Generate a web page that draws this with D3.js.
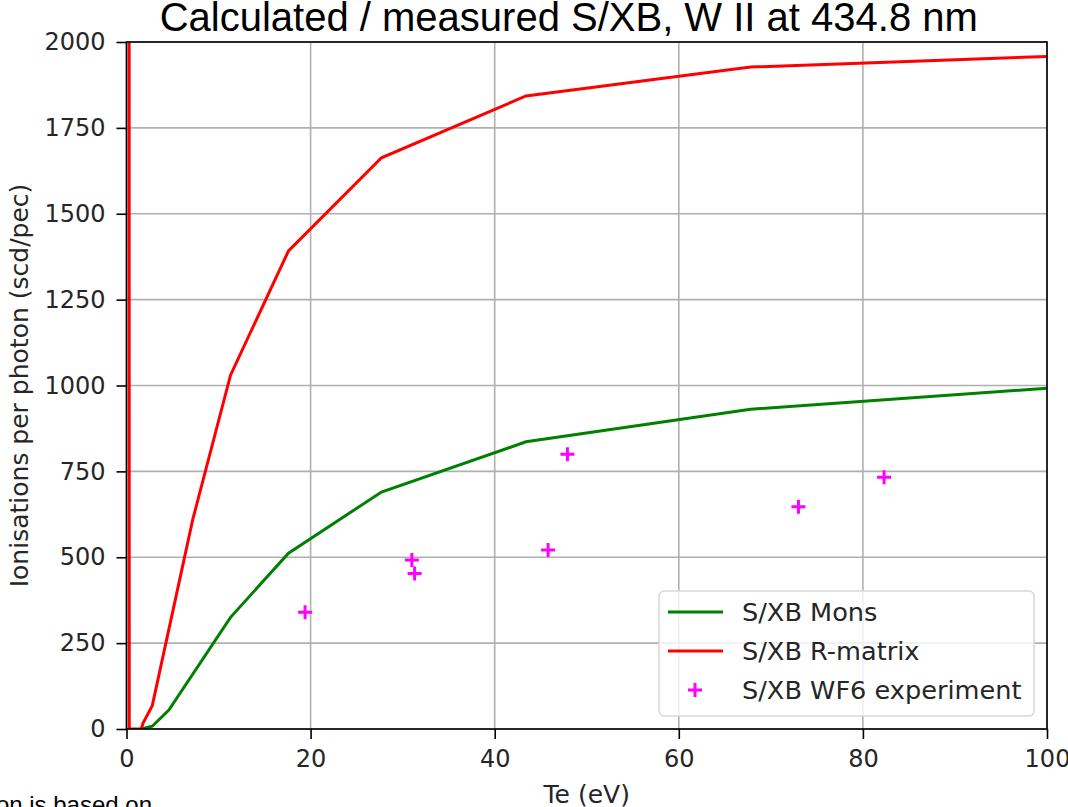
<!DOCTYPE html>
<html>
<head>
<meta charset="utf-8">
<script src="https://cdn.jsdelivr.net/npm/d3@7"></script>
<style>
  body { margin: 0; background: #fff; }
  svg { display: block; }
</style>
</head>
<body>
<svg id="chart" width="1068" height="807"></svg>
<script>
// Te grid (eV) and S/XB curves
const teRmatrix = [0.2, 0.3, 1.6, 1.8, 2.8, 7.2, 11.3, 17.6, 27.7, 43.4, 67.8, 100];
const sxbRmatrix = [20000, 0, 0, 17, 68, 610, 1030, 1392, 1663, 1843, 1927, 1958];
const teMons = [1.6, 2.8, 4.6, 11.3, 17.6, 27.7, 43.4, 67.8, 100];
const sxbMons = [0, 8, 55, 325, 512, 690, 836, 931, 992];
// WF6 experiment points
const teExp = [19.4, 31.0, 31.3, 45.8, 47.9, 73.0, 82.3];
const sxbExp = [340, 492, 453, 521, 800, 647, 733];

const xTicks = [0, 20, 40, 60, 80, 100];
const yTicks = [0, 250, 500, 750, 1000, 1250, 1500, 1750, 2000];

const margin = { top: 42, right: 21, bottom: 78, left: 126.5 },
      width = 1068 - margin.left - margin.right,
      height = 807 - margin.top - margin.bottom;

const svg = d3.select("#chart");
const g = svg.append("g")
    .attr("transform", `translate(${margin.left},${margin.top})`);

const x = d3.scaleLinear().domain([0, 100]).range([0, width]);
const y = d3.scaleLinear().domain([0, 2000]).range([height, 0]);

const font = "DejaVu Sans, sans-serif";

// clip
g.append("clipPath").attr("id", "clip")
  .append("rect").attr("width", width).attr("height", height);

// grid
g.append("g").selectAll("line").data(xTicks).join("line")
    .attr("x1", d => x(d)).attr("x2", d => x(d))
    .attr("y1", 0).attr("y2", height)
    .attr("stroke", "#b0b0b0").attr("stroke-width", 1.6);
g.append("g").selectAll("line").data(yTicks).join("line")
    .attr("x1", 0).attr("x2", width)
    .attr("y1", d => y(d)).attr("y2", d => y(d))
    .attr("stroke", "#b0b0b0").attr("stroke-width", 1.6);

// lines
const line = d3.line().x(d => x(d[0])).y(d => y(d[1]));
const plot = g.append("g").attr("clip-path", "url(#clip)");

plot.append("path")
    .datum(d3.zip(teMons, sxbMons))
    .attr("fill", "none").attr("stroke", "#008000").attr("stroke-width", 3)
    .attr("d", line);

plot.append("path")
    .datum(d3.zip(teRmatrix, sxbRmatrix))
    .attr("fill", "none").attr("stroke", "#ff0000").attr("stroke-width", 3)
    .attr("d", line);

// experiment markers
plot.selectAll(".pt").data(d3.zip(teExp, sxbExp)).join("path")
    .attr("class", "pt")
    .attr("transform", d => `translate(${x(d[0])},${y(d[1])})`)
    .attr("d", "M-7,0H7M0,-7V7")
    .attr("stroke", "#ff00ff").attr("stroke-width", 3);

// axes
const xAxis = g.append("g")
    .attr("transform", `translate(0,${height})`)
    .call(d3.axisBottom(x).tickValues(xTicks).tickSize(10).tickPadding(11).tickFormat(d3.format("d")));
const yAxis = g.append("g")
    .call(d3.axisLeft(y).tickValues(yTicks).tickSize(10).tickPadding(11).tickFormat(d3.format("d")));
[xAxis, yAxis].forEach(a => {
  a.select(".domain").remove();
  a.selectAll("line").attr("stroke", "#000").attr("stroke-width", 1.6);
  a.selectAll("text").attr("font-family", font).attr("font-size", 24).attr("fill", "#262626");
});

// frame
g.append("rect")
    .attr("width", width).attr("height", height)
    .attr("fill", "none").attr("stroke", "#000").attr("stroke-width", 1.6);

// title
svg.append("text")
    .attr("x", margin.left + width / 2 - 18).attr("y", 31)
    .attr("text-anchor", "middle")
    .attr("font-family", "Liberation Sans, Arial, sans-serif")
    .attr("font-size", 40)
    .attr("fill", "#000")
    .text("Calculated / measured S/XB, W II at 434.8 nm");

// axis labels
svg.append("text")
    .attr("x", margin.left + width / 2).attr("y", 803)
    .attr("text-anchor", "middle")
    .attr("font-family", font).attr("font-size", 25).attr("fill", "#262626")
    .text("Te (eV)");

svg.append("text")
    .attr("transform", `translate(28,${margin.top + height / 2}) rotate(-90)`)
    .attr("text-anchor", "middle")
    .attr("font-family", font).attr("font-size", 25).attr("fill", "#262626")
    .text("Ionisations per photon (scd/pec)");

// note cut off at bottom left
svg.append("text")
    .attr("x", 152).attr("y", 813)
    .attr("text-anchor", "end")
    .attr("font-family", "Liberation Sans, Arial, sans-serif")
    .attr("font-size", 24).attr("fill", "#000")
    .text("Calculation is based on");

// legend
const legendItems = [
  { label: "S/XB Mons", color: "#008000", type: "line" },
  { label: "S/XB R-matrix", color: "#ff0000", type: "line" },
  { label: "S/XB WF6 experiment", color: "#ff00ff", type: "marker" }
];
const lg = svg.append("g").attr("transform", "translate(659,591)");
lg.append("rect")
    .attr("width", 375).attr("height", 125).attr("rx", 5)
    .attr("fill", "#fff").attr("fill-opacity", 0.8)
    .attr("stroke", "#d9d9d9").attr("stroke-width", 1.6);
legendItems.forEach((d, i) => {
  const cy = 21 + i * 39;
  if (d.type === "line") {
    lg.append("line").attr("x1", 9).attr("x2", 64).attr("y1", cy).attr("y2", cy)
      .attr("stroke", d.color).attr("stroke-width", 3);
  } else {
    lg.append("path").attr("transform", `translate(36,${cy})`)
      .attr("d", "M-7,0H7M0,-7V7")
      .attr("stroke", d.color).attr("stroke-width", 3);
  }
  lg.append("text").attr("x", 83).attr("y", cy + 9)
    .attr("font-family", font).attr("font-size", 25.6).attr("fill", "#262626")
    .text(d.label);
});
</script>
</body>
</html>
